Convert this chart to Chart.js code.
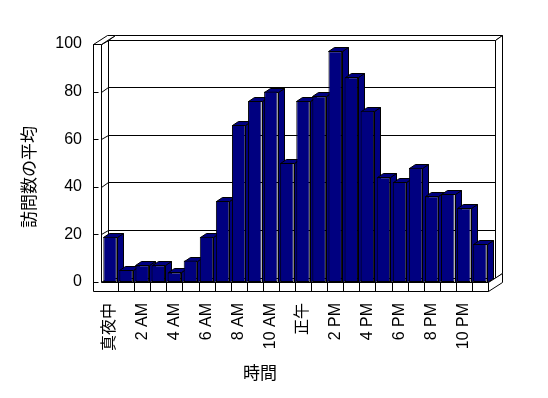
<!DOCTYPE html>
<html>
<head>
<meta charset="utf-8">
<script src="https://cdn.jsdelivr.net/npm/chart.js@4"></script>
<style>
  html, body { margin: 0; padding: 0; background: #fff; }
  #wrap { width: 548px; height: 398px; }
</style>
</head>
<body>
<div id="wrap"><canvas id="chart" width="548" height="398"></canvas></div>
<script>
const hours = ['真夜中', '1 AM', '2 AM', '3 AM', '4 AM', '5 AM', '6 AM', '7 AM', '8 AM', '9 AM', '10 AM', '11 AM',
  '正午', '1 PM', '2 PM', '3 PM', '4 PM', '5 PM', '6 PM', '7 PM', '8 PM', '9 PM', '10 PM', '11 PM'];
const visits = [19, 5, 7, 7, 4, 9, 19, 34, 66, 76, 80, 50, 76, 78, 97, 86, 72, 44, 42, 48, 36, 37, 31, 16];
const yMin = 0;
const yMax = 100;
const yStep = 20;
const yTitle = '訪問数の平均';
const xTitle = '時間';

const FONT = '"Liberation Sans", "Noto Sans CJK JP", sans-serif';
const DEPTH = { x: 7, y: -4.5 };   // one layer of depth (front -> back wall)
const BAR_DEPTH = { x: 6, y: -4 };

function p(v) { return Math.round(v) + 0.5; }

function poly(ctx, pts, fill) {
  ctx.beginPath();
  ctx.moveTo(p(pts[0][0]), p(pts[0][1]));
  for (let i = 1; i < pts.length; i++) ctx.lineTo(p(pts[i][0]), p(pts[i][1]));
  ctx.closePath();
  ctx.fillStyle = fill;
  ctx.fill();
  ctx.stroke();
}

function line(ctx, x1, y1, x2, y2) {
  ctx.beginPath();
  ctx.moveTo(p(x1), p(y1));
  ctx.lineTo(p(x2), p(y2));
  ctx.stroke();
}

// walls, floor and the hidden faces of the bars
const box3d = {
  id: 'box3d',
  beforeDatasetsDraw(chart) {
    const ctx = chart.ctx;
    const ca = chart.chartArea;
    const ys = chart.scales.y;
    const dx = DEPTH.x, dy = DEPTH.y;
    const L = ca.left - 1, R = ca.right;
    const top = ys.getPixelForValue(yMax), bot = ys.getPixelForValue(yMin);
    const wallL = L - 8, floorB = bot + 9;
    ctx.save();
    ctx.strokeStyle = '#000';
    ctx.lineWidth = 1;

    // back wall
    poly(ctx, [[L + dx, top + dy], [R + dx, top + dy], [R + dx, bot + dy], [L + dx, bot + dy]], '#fff');
    poly(ctx, [[L + dx, top + dy], [L + 2 * dx, top + 2 * dy], [R + 2 * dx, top + 2 * dy], [R + dx, top + dy]], '#fff');
    poly(ctx, [[R + dx, top + dy], [R + 2 * dx, top + 2 * dy], [R + 2 * dx, bot + 2 * dy], [R + dx, bot + dy]], '#fff');

    // left wall inner face
    poly(ctx, [[L, top], [L + dx, top + dy], [L + dx, bot + dy], [L, bot]], '#fff');

    // gridlines
    for (let v = yMin + yStep; v <= yMax; v += yStep) {
      const y = ys.getPixelForValue(v);
      line(ctx, L, y, L + dx, y + dy);
      line(ctx, L + dx, y + dy, R + dx, y + dy);
    }

    // floor top and right side
    poly(ctx, [[L, bot], [R, bot], [R + dx, bot + dy], [L + dx, bot + dy]], '#fff');
    poly(ctx, [[R, bot], [R + 2 * dx, bot + 2 * dy], [R + 2 * dx, floorB + 2 * dy], [R, floorB]], '#fff');

    // left wall top and front outline
    poly(ctx, [[wallL, top], [L, top], [L + 2 * dx, top + 2 * dy], [wallL + 2 * dx, top + 2 * dy]], '#fff');
    poly(ctx, [[wallL, top], [L, top], [L, bot], [R, bot], [R, floorB], [wallL, floorB]], '#fff');

    // value ticks on the wall
    for (let v = yMin; v <= yMax; v += yStep) {
      const y = ys.getPixelForValue(v);
      line(ctx, wallL, y, wallL + 5, y);
    }
    // category ticks on the floor
    const pitch = (ca.right - ca.left) / hours.length;
    for (let k = 1; k < hours.length; k++) {
      const x = ca.left + k * pitch;
      line(ctx, x, bot, x, floorB);
    }

    // sides and tops of bars
    const bd = BAR_DEPTH;
    chart.getDatasetMeta(0).data.forEach((bar) => {
      const x1 = bar.x - bar.width / 2, x2 = bar.x + bar.width / 2;
      poly(ctx, [[x2, bar.y], [x2 + bd.x, bar.y + bd.y], [x2 + bd.x, bar.base + bd.y], [x2, bar.base]], '#000080');
      poly(ctx, [[x1, bar.y], [x2, bar.y], [x2 + bd.x, bar.y + bd.y], [x1 + bd.x, bar.y + bd.y]], '#000080');
    });
    ctx.restore();
  },
  afterDraw(chart) {
    const ctx = chart.ctx;
    ctx.save();
    ctx.fillStyle = '#000';
    ctx.font = '17px ' + FONT;
    ctx.textAlign = 'center';
    ctx.textBaseline = 'middle';
    ctx.fillText(xTitle, 260, 374);
    ctx.translate(30, 177);
    ctx.rotate(-Math.PI / 2);
    ctx.fillText(yTitle, 0, 0);
    ctx.restore();
  }
};

Chart.defaults.font.family = FONT;
Chart.defaults.color = '#000';

new Chart(document.getElementById('chart'), {
  type: 'bar',
  data: {
    labels: hours,
    datasets: [{
      data: visits,
      backgroundColor: '#000080',
      borderColor: '#000',
      borderWidth: 1,
      borderSkipped: false,
      categoryPercentage: 1,
      barPercentage: 0.84
    }]
  },
  options: {
    responsive: false,
    animation: false,
    events: [],
    layout: { padding: { top: 44, right: 60, bottom: 0, left: 0 } },
    plugins: { legend: { display: false }, tooltip: { enabled: false } },
    scales: {
      x: {
        grid: { display: false, drawTicks: false },
        border: { display: false },
        ticks: {
          autoSkip: false,
          maxRotation: 90,
          minRotation: 90,
          padding: 21,
          font: { size: 16 },
          callback: (val, i) => (i % 2 === 0 ? hours[i] : '')
        },
        afterFit: (scale) => { scale.height = 116; }
      },
      y: {
        min: yMin,
        max: yMax,
        grid: { display: false, drawTicks: false },
        border: { display: false },
        ticks: { stepSize: yStep, padding: 20, font: { size: 16 } },
        afterFit: (scale) => { scale.width = 102; }
      }
    }
  },
  plugins: [box3d]
});
</script>
</body>
</html>
